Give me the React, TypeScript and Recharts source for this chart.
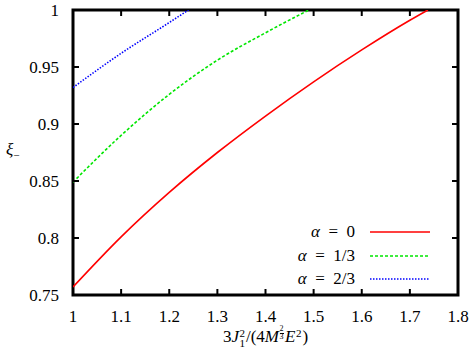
import React from 'react';
import { LineChart, Line, XAxis, YAxis, ReferenceArea } from 'recharts';

const xTicks = [1, 1.1, 1.2, 1.3, 1.4, 1.5, 1.6, 1.7, 1.8];
const yTicks = [0.75, 0.8, 0.85, 0.9, 0.95, 1];

const alpha0X = [1, 1.1, 1.2, 1.3, 1.4, 1.5, 1.6, 1.7, 1.7375];
const alpha0Y = [0.757, 0.801, 0.84, 0.875, 0.907, 0.937, 0.965, 0.991, 1.0];
const alpha13X = [1, 1.1, 1.2, 1.3, 1.4, 1.49];
const alpha13Y = [0.849, 0.89, 0.926, 0.956, 0.98, 1.0];
const alpha23X = [1, 1.1, 1.2, 1.24];
const alpha23Y = [0.932, 0.962, 0.989, 1.0];

const seriesLabels = ['α = 0', 'α = 1/3', 'α = 2/3'];
const seriesColors = ['#ff0000', '#00e600', '#0000ff'];
const seriesDash = ['', '3 2', '1.5 1.5'];

const toPoints = (xs: number[], ys: number[]) => xs.map((x, i) => ({ x, y: ys[i] }));
const seriesData = [
  toPoints(alpha0X, alpha0Y),
  toPoints(alpha13X, alpha13Y),
  toPoints(alpha23X, alpha23Y),
];

const FONT = "'Liberation Serif', 'Times New Roman', serif";
const tickStyle = { fill: '#000', fontSize: 17, fontFamily: FONT };
const tickLineStyle = { stroke: '#000', strokeWidth: 2 };
const empty = () => '';

const Stack = ({ top, bottom, size, topY, botY, width, bar }: any) => (
  <span style={{ position: 'relative', display: 'inline-block', width, height: 10 }}>
    <span style={{ position: 'absolute', left: 0.5, top: topY, fontSize: size, lineHeight: `${size}px`, borderBottom: bar ? '0.7px solid #000' : 'none' }}>{top}</span>
    {bottom !== undefined && (
      <span style={{ position: 'absolute', left: 0.5, top: botY, fontSize: size, lineHeight: `${size}px` }}>{bottom}</span>
    )}
  </span>
);

export default function App() {
  return (
    <div style={{ position: 'absolute', left: 0, top: 0, width: 474, height: 350, background: '#fff', fontFamily: FONT, overflow: 'hidden' }}>
      <LineChart width={474} height={350} margin={{ top: 0, right: 0, bottom: 0, left: 0 }}>
        <XAxis
          dataKey="x"
          type="number"
          domain={[1, 1.8]}
          ticks={xTicks}
          interval={0}
          allowDataOverflow
          height={55}
          axisLine={false}
          tickSize={-6}
          tickMargin={21}
          tickLine={tickLineStyle}
          tick={tickStyle}
        />
        <XAxis
          xAxisId="top"
          orientation="top"
          dataKey="x"
          type="number"
          domain={[1, 1.8]}
          ticks={xTicks}
          interval={0}
          allowDataOverflow
          height={10}
          axisLine={false}
          tickSize={-6}
          tickLine={tickLineStyle}
          tickFormatter={empty}
        />
        <YAxis
          type="number"
          domain={[0.75, 1]}
          ticks={yTicks}
          interval={0}
          allowDataOverflow
          width={73}
          axisLine={false}
          tickSize={-6}
          tickMargin={20}
          tickLine={tickLineStyle}
          tick={tickStyle}
        />
        <YAxis
          yAxisId="right"
          orientation="right"
          type="number"
          domain={[0.75, 1]}
          ticks={yTicks}
          interval={0}
          allowDataOverflow
          width={16}
          axisLine={false}
          tickSize={-6}
          tickLine={tickLineStyle}
          tickFormatter={empty}
        />
        <ReferenceArea
          x1={1}
          x2={1.8}
          y1={0.75}
          y2={1}
          fill="none"
          fillOpacity={0}
          stroke="#000"
          strokeWidth={3}
          ifOverflow="visible"
        />
        {seriesData.map((d, i) => (
          <Line
            key={i}
            data={d}
            dataKey="y"
            type="monotone"
            stroke={seriesColors[i]}
            strokeWidth={1.6}
            strokeDasharray={seriesDash[i] || undefined}
            dot={false}
            activeDot={false}
            isAnimationActive={false}
          />
        ))}
      </LineChart>

      {/* Legend */}
      {seriesLabels.map((lab, i) => (
        <React.Fragment key={i}>
          <div
            style={{
              position: 'absolute',
              left: 0,
              width: 355,
              top: 220 + i * 23.5,
              height: 24,
              lineHeight: '24px',
              textAlign: 'right',
              fontSize: 17,
              whiteSpace: 'pre',
            }}
          >
            <i>{lab[0]}</i>
            {lab.slice(1).replace(' = ', '\u2002=\u2002')}
          </div>
          <svg
            style={{ position: 'absolute', left: 370, top: 230 + i * 23.5 }}
            width={60}
            height={4}
          >
            <line
              x1={0}
              y1={2}
              x2={60}
              y2={2}
              stroke={seriesColors[i]}
              strokeWidth={1.6}
              strokeDasharray={seriesDash[i] || undefined}
            />
          </svg>
        </React.Fragment>
      ))}

      {/* Y axis title */}
      <div style={{ position: 'absolute', left: 6, top: 140, fontSize: 17, lineHeight: '20px' }}>
        <i>ξ</i>
        <sub style={{ fontSize: 11 }}>−</sub>
      </div>

      {/* X axis title */}
      <div
        style={{
          position: 'absolute',
          left: 0,
          width: 531,
          top: 328,
          height: 18,
          textAlign: 'center',
          fontSize: 17,
          lineHeight: '18px',
          whiteSpace: 'nowrap',
        }}
      >
        3<i>J</i>
        <Stack top="2" bottom="1" size={11} topY={-4} botY={6} width={7} />
        /(4<i>M</i>
        <Stack top="2" bottom="3" size={8} topY={-7} botY={1} width={6} bar />
        <i>E</i>
        <Stack top="2" size={11} topY={-4} width={7} />)
      </div>
    </div>
  );
}
